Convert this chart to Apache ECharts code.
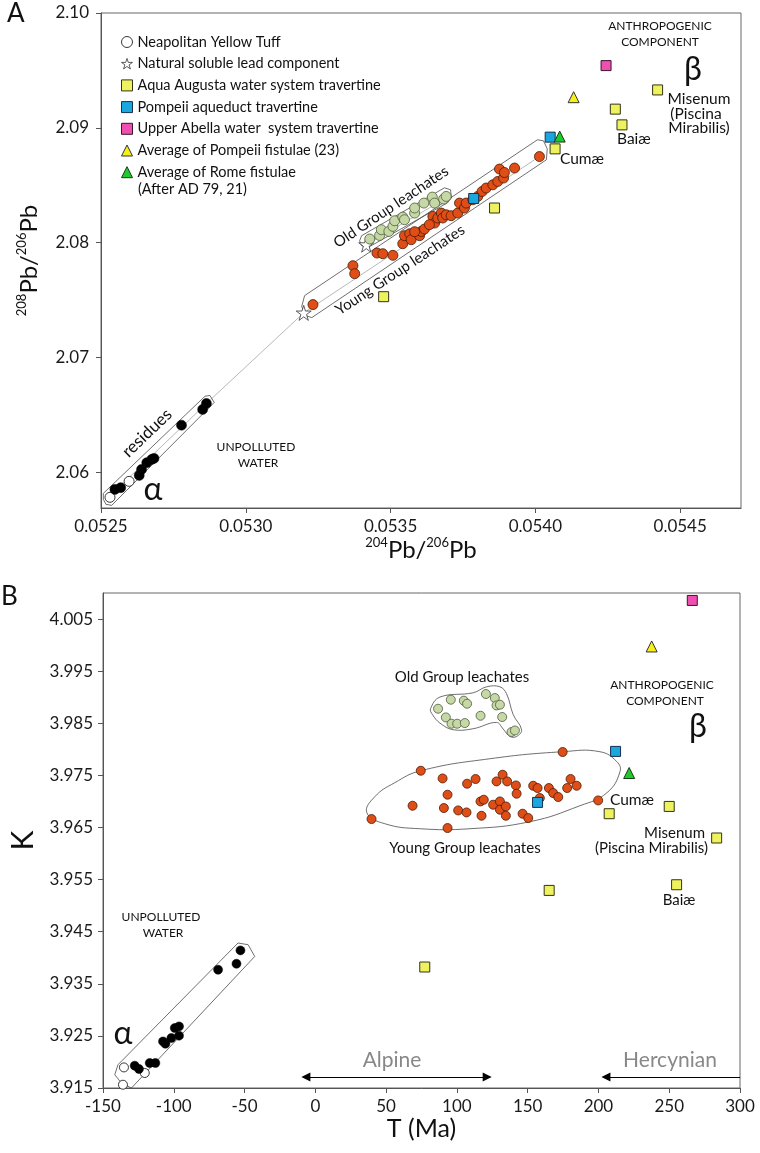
<!DOCTYPE html>
<html>
<head>
<meta charset="utf-8">
<script src="https://cdn.jsdelivr.net/npm/echarts@6/dist/echarts.min.js"></script>
<style>html,body{margin:0;padding:0;background:#fff;}#c{width:760px;height:1153px;}</style>
</head>
<body>
<div id="c"></div>
<script>
// ---------------- Panel A data: [204Pb/206Pb, 208Pb/206Pb] ----------------
const xTicksA = [0.0525, 0.0530, 0.0535, 0.0540, 0.0545];
const yTicksA = [2.06, 2.07, 2.08, 2.09, 2.10];
const nytA = [[0.052531,2.05783],[0.052597,2.05922]];
const starsA = [[0.053200,2.07389],[0.053416,2.07983]];
const residuesA = [[0.052548,2.05852],[0.052568,2.05867],[0.052632,2.05974],[0.052640,2.06026],[0.052658,2.06084],[0.052675,2.06113],[0.052683,2.06122],[0.052778,2.06411],[0.052851,2.06548],[0.052864,2.06600]];
const youngA = [[0.053232,2.07461],[0.053370,2.07800],[0.053376,2.07730],[0.053453,2.07910],[0.053473,2.07904],[0.053508,2.07890],[0.053542,2.07991],[0.053548,2.08061],[0.053566,2.08078],[0.053571,2.08026],[0.053600,2.08061],[0.053606,2.08098],[0.053617,2.08119],[0.053646,2.08229],[0.053652,2.08171],[0.053663,2.08215],[0.053675,2.08258],[0.053680,2.08215],[0.053692,2.08243],[0.053709,2.08235],[0.053732,2.08258],[0.053738,2.08345],[0.053755,2.08302],[0.053761,2.08345],[0.053784,2.08374],[0.053801,2.08403],[0.053816,2.08446],[0.053830,2.08476],[0.053853,2.08504],[0.053870,2.08533],[0.053876,2.08641],[0.053890,2.08563],[0.053893,2.08611],[0.053928,2.08650],[0.054014,2.08750],[0.053634,2.08157],[0.053583,2.08096]];
const oldA = [[0.053428,2.08032],[0.053462,2.08063],[0.053468,2.08113],[0.053494,2.08098],[0.053508,2.08142],[0.053514,2.08191],[0.053542,2.08223],[0.053548,2.08200],[0.053583,2.08258],[0.053583,2.08302],[0.053615,2.08345],[0.053644,2.08397],[0.053652,2.08345],[0.053683,2.08380],[0.053692,2.08403]];
const aquaA = [[0.053476,2.07530],[0.053859,2.08302],[0.054068,2.08817],[0.054276,2.09163],[0.054299,2.09026],[0.054422,2.09330]];
const pompAqA = [[0.054051,2.08919],[0.053787,2.08385]];
const abellaA = [[0.054244,2.09542]];
const pompFistA = [[0.054132,2.09267]];
const romeFistA = [[0.054084,2.08924]];
const mixLineA = [[0.052520,2.05770],[0.052864,2.06600],[0.053200,2.07389],[0.054014,2.08750]];
const oldLineA = [[0.053416,2.07983],[0.053700,2.08400]];
const residueOutlineA = [[0.052508,2.05817],[0.052859,2.06663],[0.052876,2.06670],[0.052891,2.06609],[0.052537,2.05713],[0.052517,2.05722],[0.052508,2.05765]];
const youngOutlineA = [[0.053203,2.07539],[0.054007,2.08896],[0.054028,2.08887],[0.054041,2.08817],[0.054038,2.08722],[0.053228,2.07348],[0.053207,2.07365],[0.053193,2.07443]];
const oldOutlineA = [[0.053400,2.08061],[0.053686,2.08478],[0.053707,2.08461],[0.053710,2.08391],[0.053697,2.08348],[0.053421,2.07957],[0.053400,2.07974],[0.053393,2.08017]];

// ---------------- Panel B data: [T (Ma), K] ----------------
const xTicksB = [-150,-100,-50,0,50,100,150,200,250,300];
const yTicksB = [3.915,3.925,3.935,3.945,3.955,3.965,3.975,3.985,3.995,4.005];
const nytB = [[-135.2,3.91895],[-135.9,3.91563],[-120.5,3.91788]];
const residuesB = [[-127.6,3.91928],[-124.6,3.91865],[-117.0,3.91980],[-113.0,3.91980],[-107.6,3.92394],[-105.9,3.92350],[-101.7,3.92460],[-99.3,3.92651],[-96.3,3.92682],[-96.3,3.92504],[-68.7,3.93770],[-55.7,3.93885],[-52.9,3.94141]];
const oldB = [[86.7,3.98779],[95.7,3.98952],[104.9,3.98933],[107.2,3.98875],[92.2,3.98612],[96.2,3.98491],[100.2,3.98491],[105.6,3.98504],[116.7,3.98644],[120.5,3.99061],[126.8,3.98984],[128.0,3.98842],[130.4,3.98856],[132.0,3.98620],[138.6,3.98332],[141.0,3.98362]];
const youngB = [[174.7,3.97948],[74.5,3.97589],[89.9,3.97441],[107.2,3.97340],[113.2,3.97430],[128.0,3.97384],[132.3,3.97512],[135.5,3.97384],[141.7,3.97307],[142.2,3.97148],[153.9,3.97301],[157.0,3.97257],[165.0,3.97257],[168.0,3.97161],[171.6,3.97084],[177.9,3.97257],[180.3,3.97430],[184.6,3.97301],[199.8,3.97019],[39.7,3.96662],[68.7,3.96917],[90.8,3.96873],[93.4,3.97129],[100.9,3.96827],[106.8,3.96789],[116.7,3.97000],[119.0,3.97033],[125.6,3.96937],[130.4,3.97000],[130.4,3.96841],[134.6,3.96904],[134.6,3.96725],[117.4,3.96725],[146.4,3.96764],[150.4,3.96681],[158.6,3.97065],[93.4,3.96489]];
const aquaB = [[77.3,3.93822],[165.2,3.95292],[255.2,3.95401],[283.5,3.96298],[207.6,3.96764],[250.0,3.96904]];
const pompAqB = [[212.1,3.97960],[157.0,3.96981]];
const abellaB = [[266.3,4.00857]];
const pompFistB = [[237.6,3.99974]];
const romeFistB = [[221.7,3.97545]];
const youngOutlineB = [[74.5,3.97589],[123.3,3.97819],[174.7,3.97954],[201.0,3.97954],[213.0,3.97762],[215.2,3.97570],[206.0,3.97167],[186.9,3.96917],[151.6,3.96611],[109.2,3.96476],[73.8,3.96476],[49.1,3.96572],[36.4,3.96783],[42.0,3.97090],[56.1,3.97359]];
const oldOutlineB = [[81.4,3.98779],[88.0,3.99003],[111.5,3.99085],[121.0,3.99200],[130.4,3.99200],[135.1,3.99066],[139.8,3.98664],[145.7,3.98376],[142.2,3.98247],[137.4,3.98247],[132.7,3.98389],[128.0,3.98516],[111.5,3.98395],[97.3,3.98376],[88.0,3.98504],[82.8,3.98664]];
const residueOutlineB = [[-139.4,3.91947],[-54.6,3.94283],[-47.5,3.94250],[-42.8,3.94025],[-129.9,3.91500],[-137.0,3.91596],[-141.7,3.91755]];
const alpineRange = [-6.7, 121.4];
const hercynianRange = [205.3, 300];
const arrowLevelK = 3.91711;

// ---------------- styling ----------------
const FONT = 'Lato, "Noto Sans", sans-serif';
const STAR = 'path://M50,2 L61,36 L97,36 L68,57 L79,92 L50,71 L21,92 L32,57 L3,36 L39,36 Z';
const NAMES = {
  nyt: 'Neapolitan Yellow Tuff',
  star: 'Natural soluble lead component',
  aqua: 'Aqua Augusta water system travertine',
  pompAq: 'Pompeii aqueduct travertine',
  abella: 'Upper Abella water  system travertine',
  pompFist: 'Average of Pompeii fistulae (23)',
  rome: 'Average of Rome fistulae'
};
const ST = {
  nyt: {symbol:'circle', size:10, item:{color:'#ffffff', borderColor:'#222', borderWidth:0.9, opacity:1}},
  star: {symbol:STAR, size:15, item:{color:'#ffffff', borderColor:'#333', borderWidth:0.8, opacity:1}},
  black: {symbol:'circle', size:10, item:{color:'#000000', borderColor:'#000', borderWidth:0.5, opacity:1}},
  young: {symbol:'circle', size:10, item:{color:'#DF4E17', borderColor:'#4a1a05', borderWidth:0.8, opacity:1}},
  old: {symbol:'circle', size:10, item:{color:'#C6D8A6', borderColor:'#4d5a3a', borderWidth:0.8, opacity:1}},
  aqua: {symbol:'rect', size:10, item:{color:'#EEF25E', borderColor:'#333318', borderWidth:1, opacity:1}},
  pompAq: {symbol:'rect', size:10, item:{color:'#1AA7DF', borderColor:'#15304f', borderWidth:1, opacity:1}},
  abella: {symbol:'rect', size:10, item:{color:'#EE4FB0', borderColor:'#3a1530', borderWidth:1, opacity:1}},
  pompFist: {symbol:'triangle', size:11, item:{color:'#F7EF1A', borderColor:'#333', borderWidth:1, opacity:1}},
  rome: {symbol:'triangle', size:11, item:{color:'#1FCB2A', borderColor:'#1a3a1a', borderWidth:1, opacity:1}}
};
function sc(name, st, data, g, sizeAdj) {
  return {type:'scatter', name:name, xAxisIndex:g, yAxisIndex:g, data:data,
    symbol:st.symbol, symbolSize:st.size + (sizeAdj||0), itemStyle:st.item, z:5,
    emphasis:{disabled:true}};
}
function outline(pts, g, smooth) {
  return {type:'custom', xAxisIndex:g, yAxisIndex:g, data:[pts[0]], silent:true, z:2,
    renderItem:function(params, api){
      const p = pts.map(function(d){ return api.coord(d); });
      return {type:'polygon', shape:{points:p, smooth:smooth||0},
        style:{fill:'none', stroke:'#4a4a4a', lineWidth:0.8}};
    }};
}
function ln(data, g) {
  return {type:'line', xAxisIndex:g, yAxisIndex:g, data:data, symbol:'none', silent:true, z:1,
    lineStyle:{color:'#9a9a9a', width:0.7}};
}
function txt(x, y, text, size, o) {
  o = o || {};
  return {type:'text', x:x, y:y, rotation:(o.rot||0)*Math.PI/180, silent:true, z:50,
    style:{text:text, font:(o.weight||'normal') + ' ' + size + 'px ' + FONT, fill:o.color||'#111',
      align:o.align||'center', textAlign:o.align||'center', verticalAlign:'middle', textVerticalAlign:'middle'}};
}
function axisCommon(ticks, fmt) {
  return {
    axisLine:{show:true, onZero:false, lineStyle:{color:'#555', width:1}},
    axisTick:{show:true, length:5, customValues:ticks, lineStyle:{color:'#555'}},
    axisLabel:{customValues:ticks, formatter:fmt, fontSize:17, color:'#1a1a1a', fontFamily:FONT},
    splitLine:{show:false}
  };
}
const richTitle = {
  s:{fontSize:13, fontFamily:FONT, color:'#111', verticalAlign:'top', lineHeight:28, padding:[0,0,8,0]},
  p:{fontSize:24, fontFamily:FONT, color:'#111', lineHeight:28}
};

const xA = Object.assign({gridIndex:0, type:'value', min:0.0525, max:0.05471,
  name:'{s|204}{p|Pb/}{s|206}{p|Pb}', nameLocation:'middle', nameGap:20,
  nameTextStyle:{rich:richTitle}}, axisCommon(xTicksA, function(v){return v.toFixed(4);}));
xA.axisLabel.margin = 10;
const yA = Object.assign({gridIndex:0, type:'value', min:2.0569, max:2.10,
  name:'{s|208}{p|Pb/}{s|206}{p|Pb}', nameLocation:'middle', nameGap:58, nameRotate:90,
  nameTextStyle:{rich:richTitle}}, axisCommon(yTicksA, function(v){return v.toFixed(2);}));
yA.axisLabel.margin = 12;
const xB = Object.assign({gridIndex:1, type:'value', min:-150, max:300, interval:50,
  name:'T (Ma)', nameLocation:'middle', nameGap:28,
  nameTextStyle:{fontSize:25, fontFamily:FONT, color:'#111'}}, axisCommon(xTicksB, function(v){return String(v);}));
xB.axisLabel.margin = 10;
const yB = Object.assign({gridIndex:1, type:'value', min:3.915, max:4.010,
  name:'K', nameLocation:'middle', nameGap:64, nameRotate:90,
  nameTextStyle:{fontSize:30, fontFamily:FONT, color:'#111'}}, axisCommon(yTicksB, function(v){return v.toFixed(3);}));
yB.axisLabel.margin = 10;

const series = [
  // panel A
  ln(mixLineA, 0), ln(oldLineA, 0),
  outline(residueOutlineA, 0, 0), outline(youngOutlineA, 0, 0), outline(oldOutlineA, 0, 0),
  sc(NAMES.nyt, ST.nyt, nytA, 0),
  sc(NAMES.star, ST.star, starsA, 0),
  sc('residues', ST.black, residuesA, 0),
  sc('Young Group leachates', ST.young, youngA, 0),
  sc('Old Group leachates', ST.old, oldA, 0),
  sc(NAMES.aqua, ST.aqua, aquaA, 0),
  sc(NAMES.pompAq, ST.pompAq, pompAqA, 0),
  sc(NAMES.abella, ST.abella, abellaA, 0),
  sc(NAMES.pompFist, ST.pompFist, pompFistA, 0),
  sc(NAMES.rome, ST.rome, romeFistA, 0),
  // panel B
  outline(residueOutlineB, 1, 0), outline(youngOutlineB, 1, 0.45), outline(oldOutlineB, 1, 0.4),
  sc(NAMES.nyt, ST.nyt, nytB, 1, -1),
  sc('residues', ST.black, residuesB, 1, -1),
  sc('Young Group leachates', ST.young, youngB, 1, -1),
  sc('Old Group leachates', ST.old, oldB, 1, -1),
  sc(NAMES.aqua, ST.aqua, aquaB, 1),
  sc(NAMES.pompAq, ST.pompAq, pompAqB, 1),
  sc(NAMES.abella, ST.abella, abellaB, 1),
  sc(NAMES.pompFist, ST.pompFist, pompFistB, 1),
  sc(NAMES.rome, ST.rome, romeFistB, 1),
  {type:'line', xAxisIndex:1, yAxisIndex:1, data:[], silent:true,
    markLine:{silent:true, animation:false, symbol:['triangle','triangle'], symbolSize:[9,9],
      label:{show:false}, lineStyle:{color:'#000', width:1, type:'solid'}, emphasis:{disabled:true},
      data:[
        [{coord:[alpineRange[0], arrowLevelK], symbol:'triangle'},{coord:[alpineRange[1], arrowLevelK], symbol:'triangle'}],
        [{coord:[hercynianRange[1], arrowLevelK], symbol:'none'},{coord:[hercynianRange[0], arrowLevelK], symbol:'triangle'}]
      ]}}
];

const graphics = [
  txt(7, 14, 'A', 26, {align:'left'}),
  txt(1, 597, 'B', 26, {align:'left'}),
  txt(138, 189, '(After AD 79, 21)', 14.5, {align:'left'}),
  // Panel A annotations
  txt(660, 26, 'ANTHROPOGENIC', 12), txt(660, 42, 'COMPONENT', 12),
  txt(693, 70, 'β', 32),
  txt(699, 99, 'Misenum', 15.5), txt(696, 114, '(Piscina', 15.5), txt(699, 128, 'Mirabilis)', 15.5),
  txt(617, 139, 'Baiæ', 15.5, {align:'left'}),
  txt(560, 159, 'Cumæ', 15.5, {align:'left'}),
  txt(391, 207, 'Old Group leachates', 15, {rot:33.7}),
  txt(400, 270, 'Young Group leachates', 15, {rot:33.3}),
  txt(147, 433, 'residues', 17, {rot:44}),
  txt(256, 447, 'UNPOLLUTED', 12), txt(258, 463, 'WATER', 12),
  txt(153, 490, 'α', 32),
  // Panel B annotations
  txt(462, 677, 'Old Group leachates', 15),
  txt(662, 685, 'ANTHROPOGENIC', 12), txt(665, 701, 'COMPONENT', 12),
  txt(698, 727, 'β', 32),
  txt(610, 800, 'Cumæ', 15.5, {align:'left'}),
  txt(465, 848, 'Young Group leachates', 15),
  txt(705, 833, 'Misenum', 15, {align:'right'}),
  txt(708, 848, '(Piscina Mirabilis)', 15, {align:'right'}),
  txt(679, 900, 'Baiæ', 15),
  txt(161, 917, 'UNPOLLUTED', 12), txt(163, 933, 'WATER', 12),
  txt(123, 1034, 'α', 32),
  txt(392, 1060, 'Alpine', 21, {color:'#888'}),
  txt(670, 1060, 'Hercynian', 21, {color:'#888'})
];

const legendNames = [NAMES.nyt, NAMES.star, NAMES.aqua, NAMES.pompAq, NAMES.abella, NAMES.pompFist, NAMES.rome];
const legendKeys = ['nyt','star','aqua','pompAq','abella','pompFist','rome'];
const option = {
  animation:false,
  backgroundColor:'#fff',
  textStyle:{fontFamily:FONT},
  grid:[
    {left:101, top:13, width:640, height:495, show:true, borderColor:'#666', borderWidth:1, backgroundColor:'transparent'},
    {left:103, top:593, width:637, height:495, show:true, borderColor:'#666', borderWidth:1, backgroundColor:'transparent'}
  ],
  xAxis:[xA, xB],
  yAxis:[yA, yB],
  legend:{orient:'vertical', left:116, top:29, padding:5, itemWidth:11, itemHeight:11, itemGap:5.7,
    textStyle:{fontSize:14.5, fontFamily:FONT, color:'#111', lineHeight:16},
    selectedMode:false,
    data:legendNames.map(function(n, i){
      const st = ST[legendKeys[i]];
      return {name:n, icon:st.symbol, itemStyle:Object.assign({}, st.item)};
    })},
  graphic:graphics,
  series:series
};
const chart = echarts.init(document.getElementById('c'), null, {renderer:'canvas'});
chart.setOption(option);
</script>
</body>
</html>
